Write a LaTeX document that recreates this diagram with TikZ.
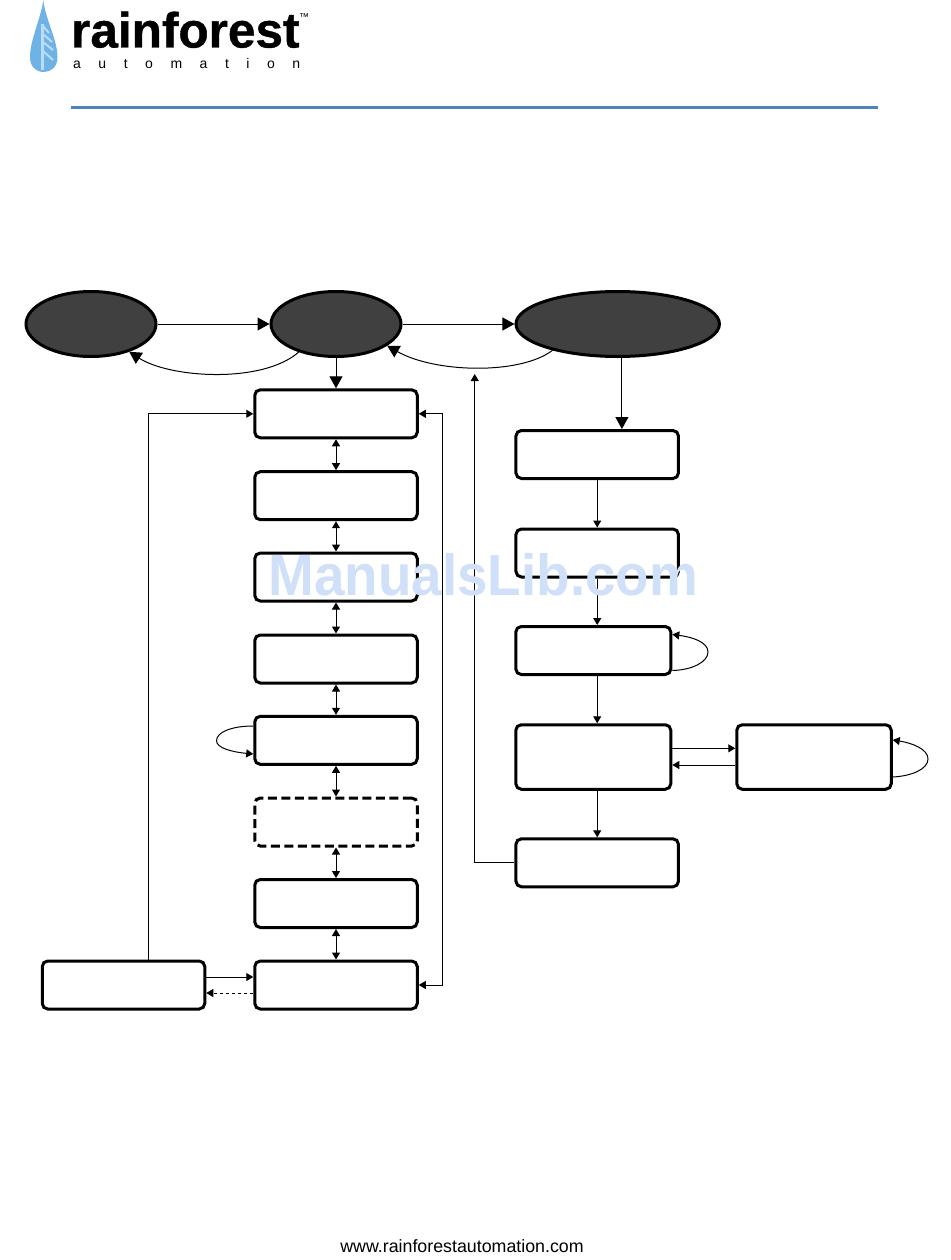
\documentclass[tikz,border=0pt]{standalone}
\usepackage{fontspec}
\setmainfont{Liberation Sans}
\usetikzlibrary{shapes.geometric,arrows.meta}
\definecolor{ovalfill}{HTML}{404040}
\definecolor{rulecol}{HTML}{4F81BD}
\definecolor{dropcol}{HTML}{6FB2E6}
\definecolor{dropleaf}{HTML}{BCDCF5}
\definecolor{wm}{HTML}{CFE0F8}
\tikzset{
 x=1pt,y=-1pt,
 oval/.style={ellipse,draw=black,fill=ovalfill,line width=3pt,minimum width=#1,minimum height=65pt,inner sep=0pt,outer sep=1.5pt},
 oval/.default=130pt,
 stbox/.style={rectangle,rounded corners=5.5pt,draw=black,fill=white,line width=3pt,inner sep=0pt,outer sep=1.5pt,minimum width=#1,minimum height=48pt},
 stbox/.default=162.5pt,
 big/.style={-{Triangle[length=12pt,width=13pt]},line width=1pt},
 small/.style={-{Triangle[length=7pt,width=8pt]},line width=1pt},
 both/.style={{Triangle[length=7pt,width=8pt]}-{Triangle[length=7pt,width=8pt]},line width=1pt},
}
\begin{document}
\begin{tikzpicture}
\useasboundingbox (0,0) rectangle (950,1260);
% logo
\fill[dropcol] (43.3,0) .. controls (45,18) and (57.5,40) .. (57.5,57) .. controls (57.5,67) and (51,72) .. (44,72) .. controls (36,72) and (30,67) .. (30,57) .. controls (30,40) and (41,18) .. (43.3,0) -- cycle;
\draw[dropleaf,line width=3pt] (42.5,24) -- (42.5,70);
\draw[dropleaf,line width=2pt] (43,26) -- (49,33) (43,34) -- (52,42) (43,42) -- (53,50) (43,51) -- (53,60);
\node[anchor=base west,inner sep=0pt] (brand) at (71,47.5) {\addfontfeature{FakeBold=0.8}\bfseries\fontsize{49.5}{49.5}\selectfont rainforest};
\node[anchor=base west,inner sep=0pt] (tm) at (299,21) {\fontsize{10}{10}\selectfont ™};
\node[anchor=base west,inner sep=0pt] (sub) at (73,68.3) {\makebox[227pt][s]{\fontsize{14}{14}\selectfont a\hfill u\hfill t\hfill o\hfill m\hfill a\hfill t\hfill i\hfill o\hfill n}};
\coordinate (ruleA) at (71,107.5); \coordinate (ruleB) at (878,107.5);
\draw[rulecol,line width=2.6pt] (ruleA) -- (ruleB);
% ovals
\node[oval] (e1) at (91,324) {};
\node[oval] (e2) at (336,324) {};
\node[oval=203.5pt] (e3) at (617.7,324) {};
% left column
\node[stbox] (l1) at (336,413.8) {};
\node[stbox] (l2) at (336,495.7) {};
\node[stbox] (l3) at (336,577) {};
\node[stbox] (l4) at (336,659) {};
\node[stbox] (l5) at (336,740.3) {};
\node[stbox,dashed,dash pattern=on 9pt off 4.5pt] (l6) at (336,822) {};
\node[stbox] (l7) at (336,903.5) {};
\node[stbox] (l8) at (336,985) {};
\node[stbox] (bl) at (123.5,985) {};
% right column
\node[stbox] (r1) at (597.2,454.5) {};
\node[stbox] (r2) at (597.2,553) {};
\node[stbox=155pt] (r3) at (593.3,650.5) {};
\node[stbox=155pt,minimum height=64.5pt] (r4) at (593.3,757) {};
\node[stbox] (r5) at (597.2,862.8) {};
\node[stbox=154.5pt,minimum height=64.5pt] (fr) at (814,757) {};
% connectors
\draw[big] (e1.east) -- (e2.west);
\draw[big] (e2.east) -- (e3.west);
\draw[big] (e2.south) -- (l1.north);
\draw[big] ([xshift=4.2pt]e3.south) -- ([xshift=24.7pt]r1.north);
\draw[big] (e2.217) .. controls (262,384) and (170,378) .. (e1.324);
\draw[big] (e3.202) .. controls (520,375) and (435,373) .. (e2.337);
\foreach \a/\b in {l1/l2,l2/l3,l3/l4,l4/l5,l5/l6,l6/l7,l7/l8}{\draw[both] (\a.south) -- (\b.north);}
\draw[small] (r1.south) -- (r2.north);
\draw[small] (r2.south) -- ([xshift=3.9pt]r3.north);
\draw[small] ([xshift=3.9pt]r3.south) -- ([xshift=3.9pt]r4.north);
\draw[small] ([xshift=3.9pt]r4.south) -- (r5.north);
\draw[small] ([yshift=8.7pt]r4.east) -- ([yshift=8.7pt]fr.west);
\draw[small] ([yshift=-8pt]fr.west) -- ([yshift=-8pt]r4.east);
\draw[small] ([yshift=-20pt]r3.east) .. controls (692,670) and (708,662) .. (708,652) .. controls (708,642) and (692,637) .. ([yshift=16pt]r3.east);
\draw[small] ([yshift=-20pt]fr.east) .. controls (912,776) and (928,769) .. (928,759) .. controls (928,749) and (912,743) .. ([yshift=17pt]fr.east);
\draw[small] ([yshift=14.3pt]l5.west) .. controls (232,726) and (216.5,732) .. (216.5,740.7) .. controls (216.5,748) and (232,752) .. ([yshift=-13.7pt]l5.west);
\draw[small] ([yshift=8pt]bl.east) -- ([yshift=8pt]l8.west);
\draw[small,dashed] ([yshift=-8pt]l8.west) -- ([yshift=-8pt]bl.east);
\coordinate (ar) at (474.7,374);
\draw[small] (r5.west) -| (ar);
\draw[small] ([xshift=24.8pt]bl.north) |- (l1.west);
\coordinate (rr) at (442.7,700);
\draw[both] (l1.east) -| (rr) |- (l8.east);
% watermark
\node[anchor=base west,inner sep=0pt,text=wm,font=\bfseries,xscale=0.945] (mark) at (268.5,595) {\fontsize{58}{58}\selectfont ManualsLib.com};
% footer
\node[anchor=base,inner sep=0pt] (foot) at (462,1252) {\fontsize{17.8}{17.8}\selectfont www.rainforestautomation.com};
\end{tikzpicture}
\end{document}
